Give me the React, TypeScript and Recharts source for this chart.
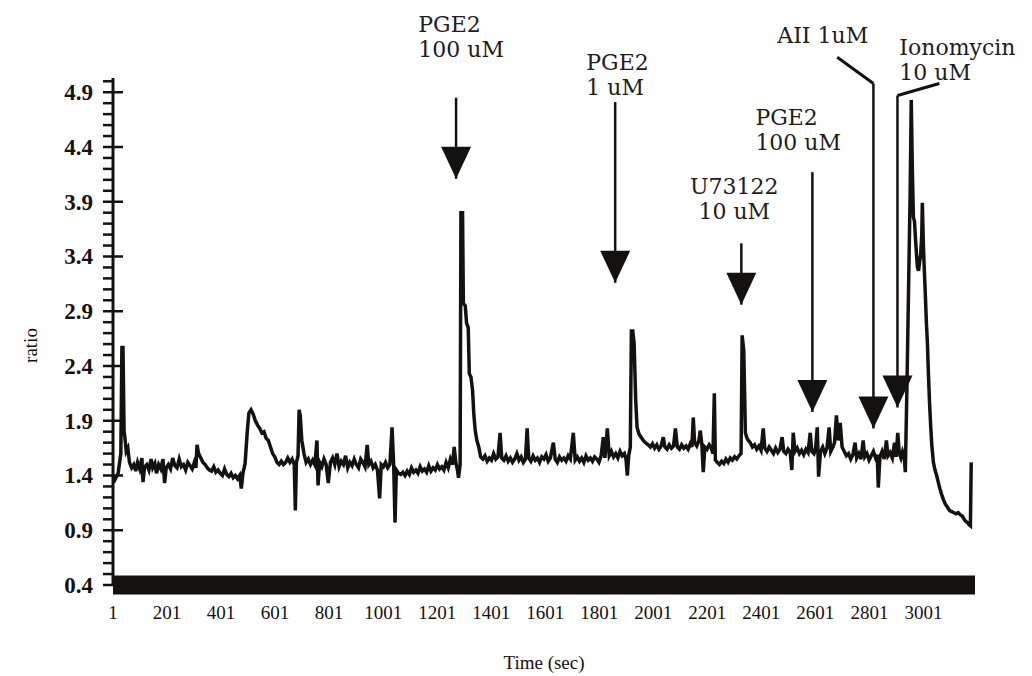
import React from 'react';
import { LineChart, Line, XAxis, YAxis, ReferenceLine, ReferenceDot } from 'recharts';

// time (sec) and fura ratio
const time = [
    1, 8, 20, 30, 34, 38, 42, 45, 50, 56,
    62, 70, 78, 85, 92, 100, 108, 112, 118, 126,
    134, 142, 148, 156, 162, 170, 178, 186, 192, 198,
    206, 214, 222, 230, 238, 246, 254, 262, 270, 278,
    286, 294, 302, 308, 312, 318, 326, 334, 342, 350,
    358, 366, 374, 382, 390, 398, 406, 414, 422, 430,
    438, 446, 454, 462, 470, 476, 482, 490, 498, 504,
    512, 520, 528, 536, 544, 552, 560, 568, 576, 584,
    592, 600, 608, 616, 624, 632, 640, 648, 656, 664,
    672, 676, 680, 686, 690, 694, 700, 708, 716, 724,
    732, 740, 748, 756, 760, 766, 774, 782, 790, 798,
    806, 814, 822, 830, 838, 846, 854, 862, 870, 878,
    886, 894, 902, 910, 918, 926, 934, 942, 948, 956,
    964, 972, 980, 988, 994, 1002, 1010, 1018, 1026, 1034,
    1040, 1045, 1050, 1058, 1066, 1074, 1082, 1090, 1098, 1106,
    1114, 1122, 1130, 1138, 1146, 1154, 1162, 1170, 1178, 1186,
    1194, 1202, 1210, 1218, 1226, 1234, 1242, 1250, 1258, 1264,
    1270, 1276, 1280, 1286, 1289, 1295, 1298, 1305, 1310, 1316,
    1320, 1326, 1332, 1337, 1342, 1348, 1355, 1362, 1370, 1378,
    1386, 1394, 1402, 1410, 1418, 1426, 1434, 1440, 1448, 1456,
    1464, 1472, 1480, 1488, 1496, 1504, 1512, 1520, 1528, 1534,
    1540, 1548, 1556, 1564, 1572, 1580, 1588, 1596, 1604, 1612,
    1620, 1631, 1638, 1646, 1654, 1662, 1670, 1678, 1686, 1694,
    1705, 1712, 1720, 1728, 1736, 1744, 1752, 1760, 1768, 1776,
    1784, 1792, 1800, 1808, 1816, 1822, 1831, 1838, 1846, 1854,
    1862, 1870, 1878, 1886, 1894, 1900, 1905, 1910, 1916, 1920,
    1925, 1930, 1936, 1941, 1948, 1956, 1964, 1972, 1982, 1990,
    1998, 2006, 2014, 2022, 2030, 2038, 2044, 2052, 2060, 2068,
    2076, 2083, 2090, 2098, 2106, 2114, 2122, 2130, 2138, 2144,
    2149, 2154, 2162, 2170, 2175, 2181, 2186, 2192, 2200, 2208,
    2216, 2222, 2227, 2231, 2238, 2246, 2254, 2262, 2270, 2278,
    2286, 2294, 2302, 2310, 2318, 2326, 2330, 2336, 2342, 2348,
    2353, 2360, 2368, 2376, 2384, 2392, 2400, 2408, 2414, 2422,
    2430, 2438, 2446, 2454, 2462, 2470, 2478, 2484, 2492, 2500,
    2508, 2514, 2519, 2526, 2534, 2542, 2550, 2558, 2566, 2574,
    2582, 2588, 2596, 2602, 2608, 2613, 2620, 2628, 2636, 2644,
    2652, 2658, 2666, 2672, 2679, 2686, 2693, 2700, 2708, 2716,
    2724, 2732, 2740, 2748, 2754, 2762, 2770, 2778, 2784, 2792,
    2800, 2808, 2816, 2824, 2830, 2834, 2840, 2848, 2856, 2864,
    2870, 2878, 2886, 2894, 2900, 2906, 2912, 2918, 2924, 2930,
    2934, 2940, 2946, 2952, 2956, 2960, 2964, 2968, 2972, 2976,
    2979, 2983, 2987, 2991, 2995, 2997, 3001, 3004, 3008, 3012,
    3016, 3020, 3024, 3028, 3032, 3038, 3044, 3050, 3056, 3062,
    3068, 3075, 3082, 3090, 3098, 3106, 3114, 3122, 3130, 3138,
    3145, 3152, 3158, 3164, 3170, 3175, 3178,
];

const ratio = [
    1.40, 1.36, 1.42, 1.60, 2.57, 2.57, 1.80, 1.75, 1.62, 1.65,
    1.52, 1.47, 1.50, 1.44, 1.52, 1.46, 1.56, 1.34, 1.48, 1.50,
    1.45, 1.55, 1.47, 1.51, 1.42, 1.50, 1.46, 1.55, 1.33, 1.47,
    1.50, 1.46, 1.56, 1.49, 1.47, 1.55, 1.48, 1.50, 1.45, 1.52,
    1.49, 1.46, 1.52, 1.47, 1.68, 1.60, 1.56, 1.52, 1.50, 1.47,
    1.45, 1.44, 1.48, 1.43, 1.45, 1.42, 1.40, 1.46, 1.41, 1.39,
    1.42, 1.38, 1.40, 1.37, 1.40, 1.28, 1.42, 1.51, 1.80, 1.97,
    2.00, 1.96, 1.90, 1.86, 1.83, 1.79, 1.80, 1.74, 1.72, 1.66,
    1.60, 1.57, 1.52, 1.50, 1.53, 1.50, 1.52, 1.56, 1.52, 1.55,
    1.50, 1.08, 1.52, 1.58, 2.00, 1.95, 1.72, 1.60, 1.52, 1.55,
    1.50, 1.54, 1.50, 1.72, 1.31, 1.52, 1.48, 1.55, 1.50, 1.33,
    1.52, 1.56, 1.50, 1.60, 1.48, 1.53, 1.50, 1.58, 1.47, 1.52,
    1.49, 1.55, 1.50, 1.47, 1.55, 1.52, 1.48, 1.68, 1.50, 1.53,
    1.47, 1.50, 1.45, 1.19, 1.50, 1.48, 1.52, 1.47, 1.50, 1.84,
    1.50, 0.97, 1.45, 1.42, 1.41, 1.43, 1.40, 1.44, 1.41, 1.47,
    1.43, 1.45, 1.42, 1.48, 1.44, 1.46, 1.43, 1.49, 1.44, 1.47,
    1.45, 1.50, 1.46, 1.48, 1.45, 1.52, 1.47, 1.55, 1.50, 1.66,
    1.52, 1.45, 1.38, 1.50, 3.80, 3.80, 2.97, 2.95, 2.79, 2.75,
    2.33, 2.30, 2.18, 1.95, 1.81, 1.72, 1.66, 1.57, 1.55, 1.58,
    1.53, 1.56, 1.54, 1.60, 1.55, 1.57, 1.79, 1.56, 1.54, 1.58,
    1.53, 1.56, 1.52, 1.55, 1.60, 1.54, 1.57, 1.52, 1.55, 1.83,
    1.56, 1.53, 1.58, 1.54, 1.56, 1.52, 1.57, 1.55, 1.59, 1.53,
    1.56, 1.70, 1.55, 1.52, 1.57, 1.54, 1.56, 1.53, 1.58, 1.55,
    1.79, 1.54, 1.57, 1.53, 1.56, 1.52, 1.58, 1.54, 1.56, 1.53,
    1.57, 1.55, 1.52, 1.58, 1.75, 1.56, 1.83, 1.58, 1.62, 1.57,
    1.60, 1.56, 1.62, 1.58, 1.60, 1.55, 1.40, 1.58, 1.66, 2.72,
    2.72, 2.61, 2.09, 1.84, 1.78, 1.75, 1.72, 1.70, 1.68, 1.66,
    1.69, 1.65, 1.68, 1.64, 1.67, 1.75, 1.66, 1.64, 1.68, 1.65,
    1.67, 1.83, 1.66, 1.64, 1.68, 1.65, 1.67, 1.64, 1.69, 1.66,
    1.93, 1.70, 1.67, 1.72, 1.81, 1.68, 1.43, 1.66, 1.64, 1.68,
    1.65, 1.60, 2.15, 1.54, 1.52, 1.50, 1.53, 1.51, 1.55, 1.52,
    1.56, 1.54, 1.57, 1.55, 1.58, 1.60, 2.68, 2.54, 1.79, 1.74,
    1.72, 1.70, 1.66, 1.68, 1.64, 1.67, 1.63, 1.83, 1.65, 1.62,
    1.66, 1.63, 1.60, 1.65, 1.61, 1.64, 1.75, 1.62, 1.60, 1.64,
    1.61, 1.45, 1.79, 1.62, 1.65, 1.60, 1.63, 1.59, 1.64, 1.61,
    1.79, 1.62, 1.60, 1.65, 1.84, 1.39, 1.62, 1.66, 1.60, 1.65,
    1.84, 1.62, 1.66, 1.70, 1.95, 1.72, 1.88, 1.66, 1.62, 1.58,
    1.60, 1.55, 1.59, 1.70, 1.56, 1.60, 1.55, 1.72, 1.57, 1.60,
    1.54, 1.58, 1.62, 1.56, 1.59, 1.29, 1.57, 1.62, 1.55, 1.72,
    1.58, 1.61, 1.56, 1.70, 1.57, 1.79, 1.60, 1.56, 1.62, 1.58,
    1.43, 2.20, 3.10, 4.00, 4.83, 4.20, 3.76, 3.72, 3.55, 3.40,
    3.30, 3.27, 3.35, 3.42, 3.60, 3.89, 3.50, 3.30, 3.06, 2.80,
    2.60, 2.30, 2.05, 1.85, 1.68, 1.52, 1.45, 1.40, 1.34, 1.28,
    1.23, 1.18, 1.14, 1.11, 1.08, 1.07, 1.06, 1.05, 1.06, 1.04,
    1.03, 1.00, 0.98, 0.97, 0.95, 0.94, 1.52,
];

const xTicks = [1, 201, 401, 601, 801, 1001, 1201, 1401, 1601, 1801, 2001, 2201, 2401, 2601, 2801, 3001];
const yMajor = [0.4, 0.9, 1.4, 1.9, 2.4, 2.9, 3.4, 3.9, 4.4, 4.9];
const yMinor = [
    0.4, 0.5, 0.6, 0.7, 0.8, 0.9, 1.0, 1.1, 1.2, 1.3, 1.4, 1.5, 1.6, 1.7, 1.8, 1.9,
    2.0, 2.1, 2.2, 2.3, 2.4, 2.5, 2.6, 2.7, 2.8, 2.9, 3.0, 3.1, 3.2, 3.3, 3.4, 3.5,
    3.6, 3.7, 3.8, 3.9, 4.0, 4.1, 4.2, 4.3, 4.4, 4.5, 4.6, 4.7, 4.8, 4.9, 5.0,
];

// drug additions: arrow at time t from ratio `top` down to `tip`
const events = [
    { lines: ['PGE2', '100 uM'], textT: 1131, textV: 5.45, anchor: 'start', t: 1271, top: 4.85, tip: 4.11 },
    { lines: ['PGE2', '1 uM'], textT: 1753, textV: 5.10, anchor: 'start', t: 1860, top: 4.81, tip: 3.16 },
    { lines: ['U73122', '10 uM'], textT: 2301, textV: 3.97, anchor: 'middle', t: 2327, top: 3.52, tip: 2.96 },
    { lines: ['PGE2', '100 uM'], textT: 2379, textV: 4.60, anchor: 'start', t: 2590, top: 4.17, tip: 1.98 },
    { lines: ['AII 1uM'], textT: 2460, textV: 5.35, anchor: 'start', t: 2816, top: 4.98, tip: 1.83, fromT: 2682, fromV: 5.22 },
    { lines: ['Ionomycin', '10 uM'], textT: 2912, textV: 5.24, anchor: 'start', t: 2905, top: 4.87, tip: 2.02, fromT: 3060, fromV: 4.98 },
];

const data = time.map((t, i) => ({ t, v: ratio[i] }));

const axisFont = '"Liberation Serif", "Times New Roman", serif';
const noteFont = '"DejaVu Serif", serif';
const ink = '#141111';

const YTick = (props: any) => {
    const { x, y, payload } = props;
    const major = yMajor.some((m) => Math.abs(m - payload.value) < 1e-6);
    return (
        <g>
            <line x1={x - 10} x2={major ? x + 10 : x} y1={y} y2={y} stroke={ink} strokeWidth={2.5} />
            {major && (
                <text x={x - 20} y={y} dy={8} textAnchor="end" fontSize={23} fontWeight="bold" fontFamily={axisFont} fill={ink}>
                    {Number(payload.value).toFixed(1)}
                </text>
            )}
        </g>
    );
};

const XTick = (props: any) => {
    const { x, y, payload } = props;
    return (
        <text x={x} y={y + 34} textAnchor="middle" fontSize={19} fontFamily={axisFont} fill={ink}>
            {payload.value}
        </text>
    );
};

const arrowHead = (props: any) => {
    const { cx, cy } = props;
    return <path d={`M ${cx - 15} ${cy - 32} L ${cx + 15} ${cy - 32} L ${cx} ${cy} Z`} fill={ink} />;
};

const noteText = (lines: string[], anchor: string) => (props: any) => {
    const { cx, cy } = props;
    return (
        <text x={cx} y={cy} textAnchor={anchor} fontSize={22} fontFamily={noteFont} fill="#221c1c">
            {lines.map((l, i) => (
                <tspan key={i} x={cx} dy={i === 0 ? 0 : 25}>
                    {l}
                </tspan>
            ))}
        </text>
    );
};

const App = () => {
    return (
        <LineChart width={1016} height={668} data={data} margin={{ top: 70, right: 49, left: 5, bottom: 11 }}>
            <XAxis
                dataKey="t"
                type="number"
                domain={[1, 3192]}
                ticks={xTicks}
                interval={0}
                tick={<XTick />}
                tickLine={false}
                tickSize={0}
                tickMargin={0}
                height={80}
                axisLine={{ stroke: ink, strokeWidth: 19 }}
                label={{
                    content: (p: any) => {
                        const vb = p.viewBox;
                        return (
                            <text x={vb.x + vb.width / 2} y={vb.y + 84} textAnchor="middle" fontSize={19} fontFamily={axisFont} fill={ink}>
                                Time (sec)
                            </text>
                        );
                    },
                }}
            />
            <YAxis
                type="number"
                domain={[0.4, 5.03]}
                ticks={yMinor}
                interval={0}
                tick={<YTick />}
                tickLine={false}
                tickSize={0}
                tickMargin={0}
                width={100}
                axisLine={{ stroke: ink, strokeWidth: 3 }}
                label={{
                    content: (p: any) => {
                        const vb = p.viewBox;
                        const cx = vb.x + 17;
                        const cy = vb.y + vb.height / 2 + 14;
                        return (
                            <text x={cx} y={cy} transform={`rotate(-90, ${cx}, ${cy})`} textAnchor="middle" dominantBaseline="central" fontSize={19} fontFamily={axisFont} fill={ink}>
                                ratio
                            </text>
                        );
                    },
                }}
            />
            <Line dataKey="v" type="linear" stroke={ink} strokeWidth={3.5} strokeLinejoin="miter" dot={false} isAnimationActive={false} />
            {events.map((e, i) => (
                <ReferenceLine
                    key={`s${i}`}
                    segment={[{ x: e.t, y: e.top }, { x: e.t, y: e.tip }]}
                    stroke={ink}
                    strokeWidth={2.5}
                    ifOverflow="visible"
                />
            ))}
            {events
                .filter((e) => e.fromT !== undefined)
                .map((e, i) => (
                    <ReferenceLine
                        key={`l${i}`}
                        segment={[{ x: e.fromT, y: e.fromV }, { x: e.t, y: e.top }]}
                        stroke={ink}
                        strokeWidth={3}
                        ifOverflow="visible"
                    />
                ))}
            {events.map((e, i) => (
                <ReferenceDot key={`h${i}`} x={e.t} y={e.tip} ifOverflow="visible" shape={arrowHead} />
            ))}
            {events.map((e, i) => (
                <ReferenceDot key={`n${i}`} x={e.textT} y={e.textV} ifOverflow="visible" shape={noteText(e.lines, e.anchor)} />
            ))}
        </LineChart>
    );
};

export default App;
